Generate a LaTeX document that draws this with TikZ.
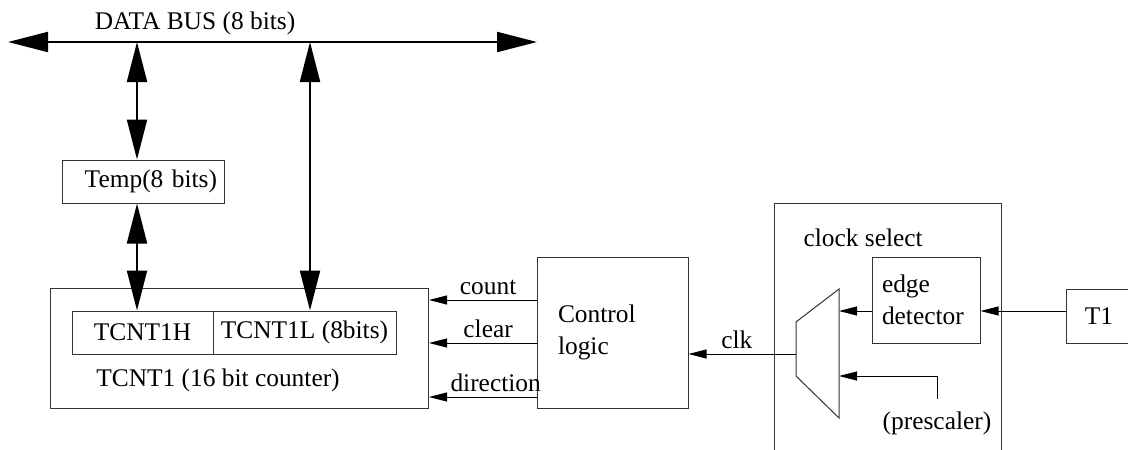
\documentclass[tikz,border=0pt]{standalone}
\usepackage{fontspec}
\setmainfont{Liberation Serif}
\usetikzlibrary{arrows.meta}
\tikzstyle{regbox} = [rectangle, draw=black!80, line width=1pt, inner sep=0pt, text centered]
\tikzstyle{busarrow} = [line width=2pt, {Triangle[length=40pt,width=20pt]}-{Triangle[length=40pt,width=20pt]}]
\tikzstyle{sigarrow} = [line width=1pt, -{Triangle[length=18pt,width=9pt]}]
\tikzstyle{lbl} = [inner sep=5pt]

\begin{document}
\begin{tikzpicture}[x=1pt, y=-1pt, font=\fontsize{25.4}{32}\selectfont]
    \useasboundingbox (0,0) rectangle (1128,450);
    \clip (0,0) rectangle (1128,450);

    % data bus
    \coordinate (busL) at (8,42);
    \coordinate (busR) at (537,42);
    \coordinate (tapH) at (137,42);
    \coordinate (tapL) at (310,42);
    \node [lbl] at (195,23) (buslabel) {DATA BUS (8 bits)};

    % counter side
    \node [regbox, minimum width=162pt, minimum height=43pt, text width=148pt, inner xsep=7pt, align=right] at (143,181.5) (temp) {Temp(8 bits)};
    \node [regbox, minimum width=378pt, minimum height=120pt] at (239.5,348) (cnt) {};
    \node [regbox, minimum width=141pt, minimum height=43pt] at (142.5,332.5) (cnthi) {TCNT1H};
    \node [regbox, minimum width=183pt, minimum height=43pt] at (304.5,332.5) (cntlo) {TCNT1L (8bits)};
    \node at (218,380) (cntlabel) {TCNT1 (16 bit counter)};
    \node [regbox, minimum width=151pt, minimum height=151pt, text width=109pt, inner xsep=21pt, align=left] at (612.5,332.5) (ctrl) {Control\\logic};

    % clock select
    \node [regbox, minimum width=227pt, minimum height=274pt] at (887.5,340) (clksel) {};
    \node [anchor=west] at (800,238) (clklabel) {clock select};
    \node [regbox, minimum width=108pt, minimum height=86pt, text width=88pt, inner xsep=10pt, align=left] at (926,300) (edge) {edge\\detector};
    \node [regbox, minimum width=66pt, minimum height=54pt] at (1099,316) (t1) {T1};
    \node at (937,423) (presc) {(prescaler)};
    \draw [draw=black!80, line width=1pt] (796,322) -- (839,289) -- (839,418) -- (796,376) -- cycle;
    \coordinate (muxin1) at (839,311);
    \coordinate (muxin2) at (839,376);
    \coordinate (muxout) at (796,354);

    \draw [busarrow] (busL) -- (busR);
    \draw [busarrow] (tapH) -- (tapH |- temp.north);
    \draw [busarrow] (temp.south -| tapH) -- (tapH |- cnthi.north);
    \draw [busarrow] (tapL) -- (tapL |- cntlo.north);

    \draw [sigarrow] (ctrl.west |- 0,300) -- node[lbl, above, pos=0.45] {count} (cnt.east |- 0,300);
    \draw [sigarrow] (ctrl.west |- 0,343) -- node[lbl, above, pos=0.45] {clear} (cnt.east |- 0,343);
    \draw [sigarrow] (ctrl.west |- 0,397) -- node[lbl, above, pos=0.38] {direction} (cnt.east |- 0,397);
    \draw [sigarrow] (muxout) -- node[lbl, above, pos=0.55] {clk} (ctrl.east |- muxout);
    \draw [sigarrow] (edge.west |- muxin1) -- (muxin1);
    \draw [sigarrow] (t1.west |- muxin1) -- (edge.east |- muxin1);
    \draw [sigarrow] ([yshift=9pt]presc.north) |- (muxin2);
\end{tikzpicture}
\end{document}
